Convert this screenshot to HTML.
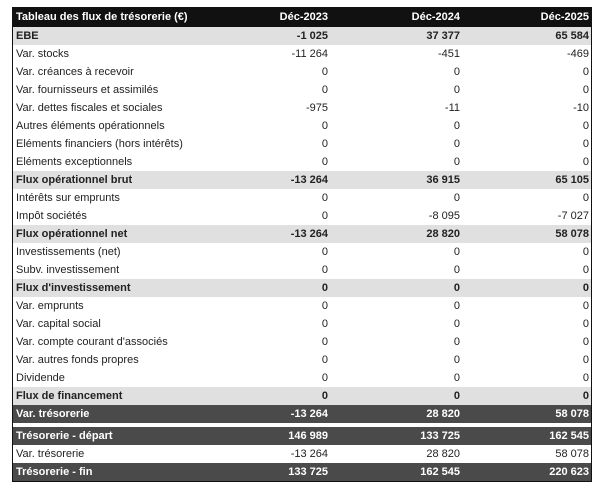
<!DOCTYPE html>
<html><head><meta charset="utf-8"><style>
body{margin:0;background:#fff;font-family:"Liberation Sans",sans-serif;font-size:11px;color:#222}
.t{position:absolute;left:12px;top:7px;width:578px;border-left:1px solid #111;border-right:1px solid #111;border-bottom:1px solid #111}
.r{height:18px;line-height:18px;position:relative;white-space:nowrap}
.r span{position:absolute}
.l{left:3px}.a{right:263px}.b{right:131px}.c{right:2px}
.h{background:#111;color:#fff;height:20px;line-height:20px;font-weight:bold}
.g{background:#e0e0e0;font-weight:bold}
.d{background:#4a4a4a;color:#fff;font-weight:bold}
.sp{height:4px;background:#fff}
</style></head><body>
<div class="t">
<div class="r h"><span class="l">Tableau des flux de trésorerie (€)</span><span class="a">Déc-2023</span><span class="b">Déc-2024</span><span class="c">Déc-2025</span></div>
<div class="r g"><span class="l">EBE</span><span class="a">-1 025</span><span class="b">37 377</span><span class="c">65 584</span></div>
<div class="r"><span class="l">Var. stocks</span><span class="a">-11 264</span><span class="b">-451</span><span class="c">-469</span></div>
<div class="r"><span class="l">Var. créances à recevoir</span><span class="a">0</span><span class="b">0</span><span class="c">0</span></div>
<div class="r"><span class="l">Var. fournisseurs et assimilés</span><span class="a">0</span><span class="b">0</span><span class="c">0</span></div>
<div class="r"><span class="l">Var. dettes fiscales et sociales</span><span class="a">-975</span><span class="b">-11</span><span class="c">-10</span></div>
<div class="r"><span class="l">Autres éléments opérationnels</span><span class="a">0</span><span class="b">0</span><span class="c">0</span></div>
<div class="r"><span class="l">Eléments financiers (hors intérêts)</span><span class="a">0</span><span class="b">0</span><span class="c">0</span></div>
<div class="r"><span class="l">Eléments exceptionnels</span><span class="a">0</span><span class="b">0</span><span class="c">0</span></div>
<div class="r g"><span class="l">Flux opérationnel brut</span><span class="a">-13 264</span><span class="b">36 915</span><span class="c">65 105</span></div>
<div class="r"><span class="l">Intérêts sur emprunts</span><span class="a">0</span><span class="b">0</span><span class="c">0</span></div>
<div class="r"><span class="l">Impôt sociétés</span><span class="a">0</span><span class="b">-8 095</span><span class="c">-7 027</span></div>
<div class="r g"><span class="l">Flux opérationnel net</span><span class="a">-13 264</span><span class="b">28 820</span><span class="c">58 078</span></div>
<div class="r"><span class="l">Investissements (net)</span><span class="a">0</span><span class="b">0</span><span class="c">0</span></div>
<div class="r"><span class="l">Subv. investissement</span><span class="a">0</span><span class="b">0</span><span class="c">0</span></div>
<div class="r g"><span class="l">Flux d'investissement</span><span class="a">0</span><span class="b">0</span><span class="c">0</span></div>
<div class="r"><span class="l">Var. emprunts</span><span class="a">0</span><span class="b">0</span><span class="c">0</span></div>
<div class="r"><span class="l">Var. capital social</span><span class="a">0</span><span class="b">0</span><span class="c">0</span></div>
<div class="r"><span class="l">Var. compte courant d'associés</span><span class="a">0</span><span class="b">0</span><span class="c">0</span></div>
<div class="r"><span class="l">Var. autres fonds propres</span><span class="a">0</span><span class="b">0</span><span class="c">0</span></div>
<div class="r"><span class="l">Dividende</span><span class="a">0</span><span class="b">0</span><span class="c">0</span></div>
<div class="r g"><span class="l">Flux de financement</span><span class="a">0</span><span class="b">0</span><span class="c">0</span></div>
<div class="r d"><span class="l">Var. trésorerie</span><span class="a">-13 264</span><span class="b">28 820</span><span class="c">58 078</span></div>
<div class="sp"></div>
<div class="r d"><span class="l">Trésorerie - départ</span><span class="a">146 989</span><span class="b">133 725</span><span class="c">162 545</span></div>
<div class="r"><span class="l">Var. trésorerie</span><span class="a">-13 264</span><span class="b">28 820</span><span class="c">58 078</span></div>
<div class="r d"><span class="l">Trésorerie - fin</span><span class="a">133 725</span><span class="b">162 545</span><span class="c">220 623</span></div>
</div>
</body></html>
